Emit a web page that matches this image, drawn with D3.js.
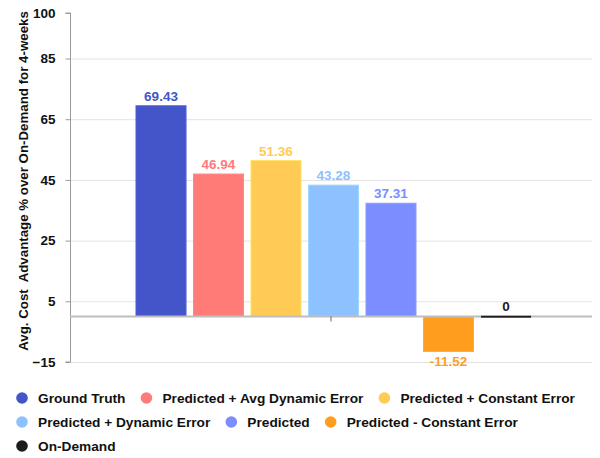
<!DOCTYPE html>
<html>
<head>
<meta charset="utf-8">
<script src="https://cdn.jsdelivr.net/npm/d3@7"></script>
<style>
  html, body { margin: 0; padding: 0; background: #fff; }
  svg { display: block; font-family: "Liberation Sans", Arial, sans-serif; }
</style>
</head>
<body>
<svg id="chart" width="600" height="458"></svg>
<script>
// Cost advantage per strategy
const seriesNames = [
  "Ground Truth",
  "Predicted + Avg Dynamic Error",
  "Predicted + Constant Error",
  "Predicted + Dynamic Error",
  "Predicted",
  "Predicted - Constant Error",
  "On-Demand"
];
const seriesValues = [69.43, 46.94, 51.36, 43.28, 37.31, -11.52, 0];
const seriesColors = ["#4355c8", "#ff7b78", "#ffcb55", "#8ec1ff", "#7b8dff", "#ff9e1e", "#1c1c1c"];
const yTicks = [-15, 5, 25, 45, 65, 85, 100];
const yTitle = "Avg. Cost  Advantage % over On-Demand for 4-weeks";

const svg = d3.select("#chart");
const plotLeft = 70, plotRight = 592, plotTop = 13, plotBottom = 362;

const y = d3.scaleLinear().domain([-15, 100]).range([plotBottom, plotTop]);
const group = d3.scaleBand().domain(["all"]).range([plotLeft, plotRight]).paddingInner(0).paddingOuter(0.12);
const x = d3.scaleBand().domain(seriesNames).range([136, 531]).paddingInner(0.13);

// Grid lines
svg.append("g").selectAll("line")
  .data(yTicks.filter(t => t !== 100))
  .join("line")
  .attr("x1", plotLeft).attr("x2", plotRight)
  .attr("y1", d => y(d) + 0.5).attr("y2", d => y(d) + 0.5)
  .attr("stroke", "#e3e3e3").attr("stroke-width", 1);

// Y axis
const yAxis = svg.append("g")
  .attr("transform", `translate(${plotLeft + 0.5},0)`)
  .call(d3.axisLeft(y).tickValues(yTicks).tickSize(5).tickPadding(10).tickFormat(d3.format("d")));
yAxis.select(".domain").attr("stroke", "#9a9a9a").attr("d", `M-5,${plotTop}H0V${plotBottom}H-5`);
yAxis.selectAll(".tick line").attr("stroke", "#9a9a9a");
yAxis.selectAll(".tick text")
  .attr("fill", "#111").attr("font-size", 13.5).attr("font-weight", "bold")
  .attr("font-family", "'Liberation Sans', Arial, sans-serif");

const rows = seriesNames.map((n, i) => ({ name: n, value: seriesValues[i], color: seriesColors[i] }));

// Bars
svg.append("g").selectAll("rect")
  .data(rows)
  .join("rect")
  .attr("x", d => x(d.name))
  .attr("width", x.bandwidth())
  .attr("y", d => Math.min(y(d.value), y(0)))
  .attr("height", d => Math.max(Math.abs(y(d.value) - y(0)), 1.5))
  .attr("fill", d => d.color)
  .attr("stroke", d => d.value === 0 ? "none" : d3.color(d.color).brighter(0.3))
  .attr("stroke-width", 1);

// Zero baseline and category tick
svg.append("line")
  .attr("x1", plotLeft).attr("x2", plotRight)
  .attr("y1", y(0)).attr("y2", y(0))
  .attr("stroke", "#bdbdbd").attr("stroke-width", 2);
const cx = group("all") + group.bandwidth() / 2;
svg.append("line")
  .attr("x1", cx).attr("x2", cx)
  .attr("y1", y(0)).attr("y2", y(0) + 5)
  .attr("stroke", "#666").attr("stroke-width", 1);

// On-Demand sits at zero: draw its thin bar over the baseline
svg.append("g").selectAll("line")
  .data(rows.filter(d => d.value === 0))
  .join("line")
  .attr("x1", d => x(d.name)).attr("x2", d => x(d.name) + x.bandwidth())
  .attr("y1", y(0)).attr("y2", y(0))
  .attr("stroke", d => d.color).attr("stroke-width", 1.5);

// Value labels
svg.append("g").selectAll("text")
  .data(rows)
  .join("text")
  .attr("x", d => x(d.name) + x.bandwidth() / 2)
  .attr("y", d => d.value >= 0 ? y(d.value) - 5 : y(d.value) + 15)
  .attr("text-anchor", "middle")
  .attr("font-size", 13.5).attr("font-weight", "bold")
  .attr("fill", d => d.color)
  .text(d => String(d.value));

// Y axis title
svg.append("text")
  .attr("transform", "translate(28,181) rotate(-90)")
  .attr("text-anchor", "middle")
  .attr("font-size", 13.3).attr("font-weight", "bold").attr("fill", "#111")
  .style("white-space", "pre")
  .text(yTitle);

// Legend, flowing into rows
const legend = svg.append("g");
const startX = 22, rowH = 24, maxX = 596;
let lx = startX, ly = 398;
seriesNames.forEach((n, i) => {
  const item = legend.append("g");
  item.append("circle").attr("cx", 0).attr("cy", 0).attr("r", 5.8).attr("fill", seriesColors[i]);
  const t = item.append("text").attr("x", 16).attr("y", 5)
    .attr("font-size", 13.7).attr("font-weight", "bold").attr("fill", "#111").text(n);
  const w = 16 + t.node().getComputedTextLength();
  if (lx + w > maxX) { lx = startX; ly += rowH; }
  item.attr("transform", `translate(${lx},${ly})`);
  lx += w + 21;
});
</script>
</body>
</html>
